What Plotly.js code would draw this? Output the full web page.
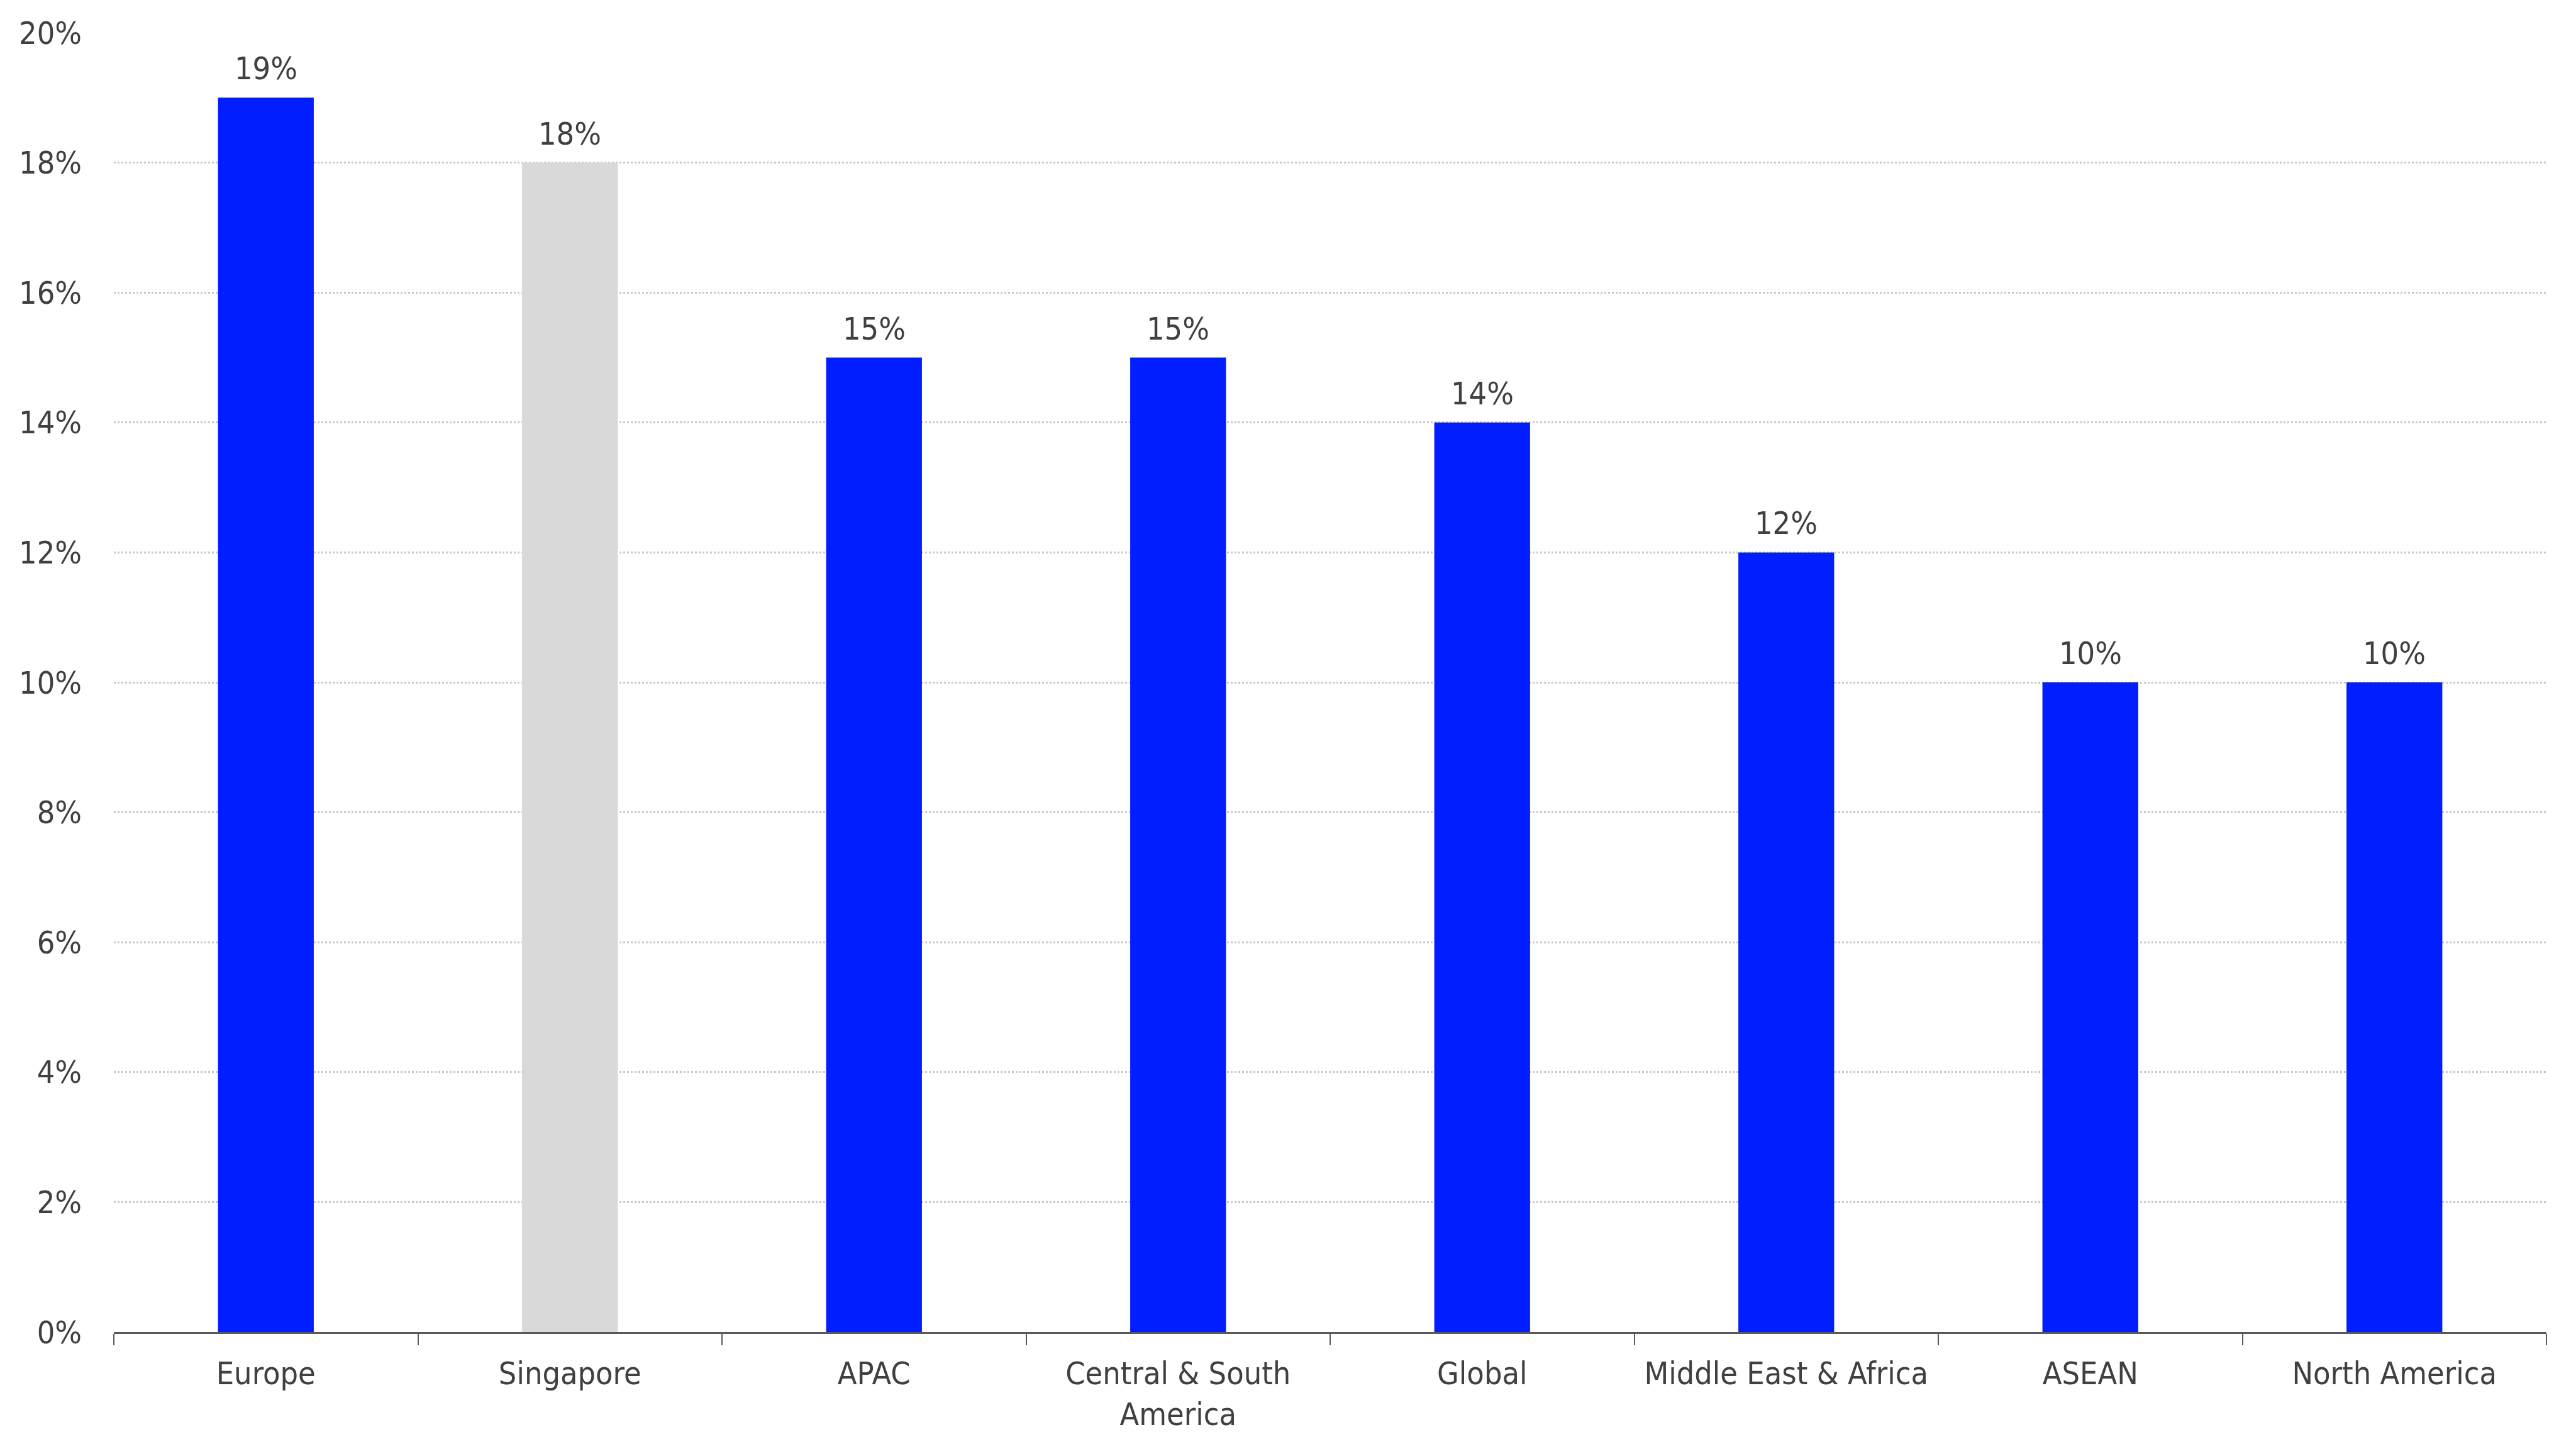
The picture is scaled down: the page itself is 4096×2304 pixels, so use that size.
<!DOCTYPE html>
<html>
<head>
<meta charset="utf-8">
<script src="https://cdn.plot.ly/plotly-3.0.1.min.js"></script>
<style>
  html, body { margin: 0; padding: 0; background: #ffffff; }
  #chart { width: 4096px; height: 2304px; }
</style>
</head>
<body>
<div id="chart"></div>
<script>
// données
const regions = ['Europe', 'Singapore', 'APAC', 'Central & South<br>America', 'Global',
                 'Middle East & Africa', 'ASEAN', 'North America'];
const valeurs = [19, 18, 15, 15, 14, 12, 10, 10];
const couleurs = ['#001eff', '#d9d9d9', '#001eff', '#001eff', '#001eff', '#001eff', '#001eff', '#001eff'];
const yTicks = [0, 2, 4, 6, 8, 10, 12, 14, 16, 18, 20];

const police = 'DejaVu Sans Condensed, DejaVu Sans, sans-serif';
const gris = '#404040';
const taille = 50;

const data = [{
    type: 'bar',
    x: regions,
    y: valeurs,
    marker: { color: couleurs, line: { width: 0 } },
    hoverinfo: 'x+y',
    showlegend: false,
}];

// étiquettes au-dessus des barres
const annotations = regions.map((r, i) => ({
    x: r,
    y: valeurs[i],
    text: valeurs[i] + '%',
    showarrow: false,
    yanchor: 'bottom',
    yshift: 15,
    font: { family: police, size: taille, color: gris },
}));

const layout = {
    width: 4096,
    height: 2304,
    paper_bgcolor: '#ffffff',
    plot_bgcolor: '#ffffff',
    margin: { l: 181, r: 47, t: 52, b: 186, pad: 0 },
    bargap: 0.685,
    font: { family: police, size: taille, color: gris },
    xaxis: {
        type: 'category',
        showgrid: false,
        zeroline: false,
        showline: true,
        linecolor: '#595959',
        linewidth: 3,
        ticks: 'outside',
        tickson: 'boundaries',
        ticklen: 18,
        tickwidth: 2,
        tickcolor: '#595959',
        ticklabelstandoff: 20,
        tickfont: { family: police, size: taille, color: gris },
    },
    yaxis: {
        range: [0, 20],
        tickvals: yTicks,
        ticktext: yTicks.map(v => v + '%'),
        showgrid: true,
        gridcolor: '#c8c8c8',
        gridwidth: 3,
        griddash: 'dot',
        zeroline: false,
        showline: false,
        ticks: '',
        ticklabelstandoff: 50,
        tickfont: { family: police, size: taille, color: gris },
    },
    annotations: annotations,
};

Plotly.newPlot('chart', data, layout, { displayModeBar: false, staticPlot: true });
</script>
</body>
</html>
